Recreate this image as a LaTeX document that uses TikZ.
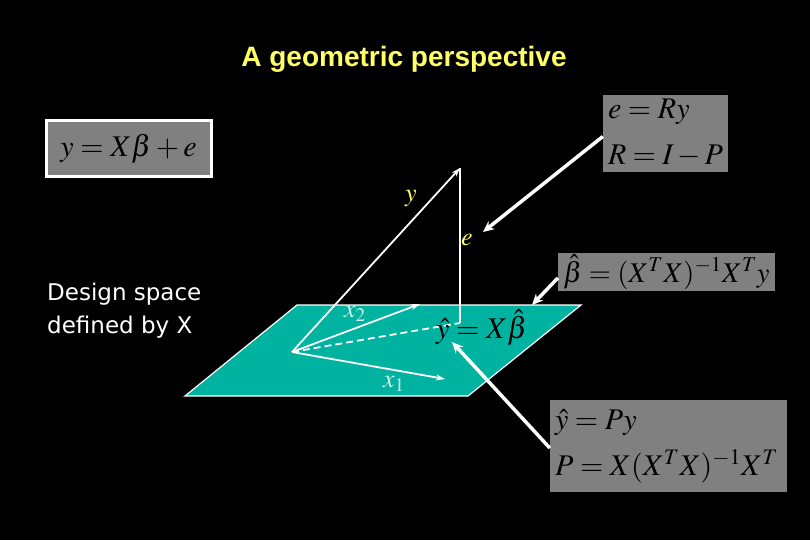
\documentclass[tikz,border=0pt]{standalone}
\usepackage{mathptmx}
\usepackage{fontspec}
\setsansfont{Liberation Sans}
\newfontfamily\gothic{DejaVu Sans}
\usetikzlibrary{arrows.meta}
\definecolor{ttl}{RGB}{255,255,102}
\definecolor{boxgray}{RGB}{128,128,128}
\definecolor{planeteal}{RGB}{0,178,160}
\definecolor{veclbl}{RGB}{205,240,235}
\tikzset{
  graybox/.style={fill=boxgray, minimum width=#1, text=black,
    font=\fontsize{30}{46}\selectfont, inner xsep=5pt, inner ysep=0pt},
  eq/.style={font=\fontsize{30}{36}\selectfont, text=black, inner sep=0pt},
  vec/.style={white, line width=1.8pt, -{Stealth[length=9pt,width=6pt]}},
  ptr/.style={white, line width=3.5pt, -{Stealth[length=11pt,width=10pt]}},
  ylbl/.style={text=ttl, font=\fontsize{26}{30}\selectfont, inner sep=0pt},
  xlbl/.style={text=veclbl, font=\fontsize{26}{30}\selectfont, inner sep=0pt}
}
\begin{document}
\begin{tikzpicture}[x=1pt,y=-1pt]
\fill[black] (0,0) rectangle (810,540);
\useasboundingbox (0,0) rectangle (810,540);

% title
\node[text=ttl, font=\sffamily\bfseries\fontsize{28}{32}\selectfont, anchor=base, inner sep=0pt] (title) at (404,67) {A geometric perspective};

% model box
\node[graybox=165pt, minimum height=55pt, draw=white, line width=3pt] (box1) at (128.5,148.5) {$y = X\beta + e$};

% design space text
\node[text=white, font=\gothic\fontsize{23}{33}\selectfont, align=left, anchor=base west, inner sep=0pt] (design) at (47,333) {Design space\\defined by X};

% plane
\coordinate (p1) at (297,305);
\coordinate (p2) at (581,305);
\coordinate (p3) at (468,396);
\coordinate (p4) at (185,396);
\draw[white, line width=1.2pt, fill=planeteal] (p1) -- (p2) -- (p3) -- (p4) -- cycle;

% vectors
\coordinate (O) at (292,352);
\coordinate (Ytip) at (460,168);
\coordinate (Yhat) at (460,323);
\coordinate (X2tip) at (420,304);
\coordinate (X1tip) at (445,379);
\draw[white, line width=1.8pt, dashed, dash pattern=on 7pt off 4pt] (O) -- (Yhat);
\draw[white, line width=1.8pt] (Ytip) -- (Yhat);
\draw[vec] (O) -- (Ytip);
\draw[vec] (O) -- (X2tip);
\draw[vec] (O) -- (X1tip);

% labels
\node[ylbl] (ylab) at (411,199) {$y$};
\node[ylbl] (elab) at (467,240) {$e$};
\node[xlbl] (x2lab) at (355,314) {$x_2$};
\node[xlbl] (x1lab) at (394,384) {$x_1$};
\node[eq, anchor=base west] (yhateq) at (436,338) {$\hat y = X\hat\beta$};

% e = Ry box
\node[graybox=125pt, minimum height=77pt, text width=115pt, align=left] (boxR) at (665.5,133.5) {$e = Ry$\\$R = I - P$};

% beta hat box
\node[graybox=217pt, minimum height=38pt, inner xsep=3pt, font=\fontsize{28.5}{34}\selectfont] (boxB) at (666.5,272) {$\hat\beta = (X^T X)^{-1} X^T y$};

% P box
\node[graybox=237pt, minimum height=92pt, text width=227pt, align=left] (boxP) at (668.5,446) {$\hat y = Py$\\$P = X(X^T X)^{-1} X^T$};

% pointer arrows
\coordinate (eTip) at (483,232);
\coordinate (bTip) at (532,305);
\coordinate (pTip) at (452,342);
\draw[ptr] ([yshift=-3pt]boxR.west) -- (eTip);
\draw[ptr] ([yshift=-6pt]boxB.west) -- (bTip);
\draw[ptr] ([yshift=-2pt]boxP.west) -- (pTip);
\end{tikzpicture}
\end{document}
